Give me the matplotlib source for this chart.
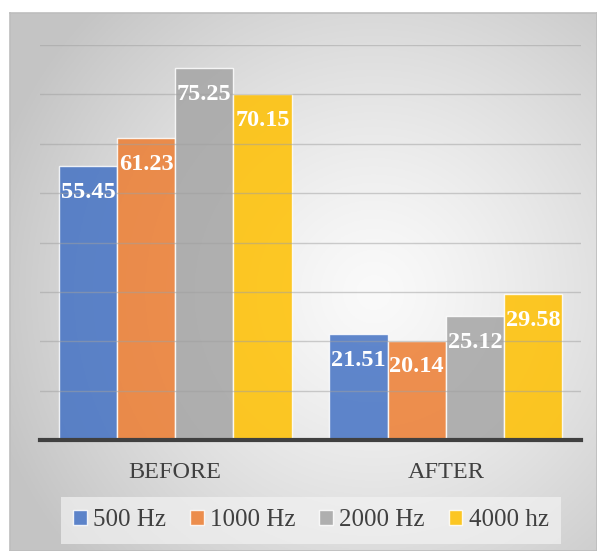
import numpy as np
import matplotlib.pyplot as plt
from matplotlib.patches import Rectangle

categories = ["BEFORE", "AFTER"]
series_names = ["500 Hz", "1000 Hz", "2000 Hz", "4000 hz"]
values_500 = [55.45, 21.51]
values_1000 = [61.23, 20.14]
values_2000 = [75.25, 25.12]
values_4000 = [70.15, 29.58]
all_values = [values_500, values_1000, values_2000, values_4000]
colors = ["#4472C4", "#ED7D31", "#A5A5A5", "#FFC000"]

plt.rcParams['font.family'] = ['Liberation Serif', 'DejaVu Serif']

W, H = 597, 551
fig = plt.figure(figsize=(W / 100, H / 100), dpi=100)
fig.patch.set_facecolor('white')

# background chart area with radial gradient
bx0, by0 = 10 / W, 0
bw, bh = 1 - bx0, (H - 13) / H
bg = fig.add_axes([bx0, by0, bw, bh], zorder=0)
ny, nx = 300, 330
yy, xx = np.mgrid[0:1:ny * 1j, 0:1:nx * 1j]
cx, cy = 0.62, 0.52
r = np.sqrt(((xx - cx) * 1.1) ** 2 + ((yy - cy) * 1.0) ** 2)
r = np.clip(r / 0.75, 0, 1)
lo, hi = 0.98, 0.77
img = hi + (lo - hi) * (1 - r ** 1.3)
bg.imshow(np.dstack([img, img, img]), extent=[0, 1, 0, 1], aspect='auto', origin='upper')
bg.set_xlim(0, 1)
bg.set_ylim(0, 1)
bg.set_xticks([])
bg.set_yticks([])
for s in bg.spines.values():
    s.set_color('#bdbdbd')
    s.set_linewidth(1.2)

ax = fig.add_axes([40 / W, 1 - 440 / H, (581 - 40) / W, (440 - 45) / H], zorder=1)
ax.patch.set_alpha(0)
x = np.arange(len(categories))
bw_ = 0.215
offsets = (np.arange(4) - 1.5) * bw_
bars_list = []
for i, (vals, c, name) in enumerate(zip(all_values, colors, series_names)):
    bars = ax.bar(x + offsets[i], vals, width=bw_, color=c, alpha=0.85,
                  edgecolor='white', linewidth=1.0, label=name, zorder=2)
    bars_list.append(bars)
    for b, v in zip(bars, vals):
        ax.annotate(f"{v:.2f}", (b.get_x() + b.get_width() / 2, v),
                    xytext=(0, -19), textcoords='offset points',
                    ha='center', va='center', color='white',
                    fontsize=17.5, fontweight='bold', zorder=3)

ax.set_xlim(-0.5, 1.5)
ax.set_ylim(0, 80)
ax.set_yticks(np.arange(0, 81, 10))
ax.yaxis.grid(True, color='#a0a0a0', linewidth=1.0, alpha=0.5, zorder=2.5)
ax.set_axisbelow(False)
ax.tick_params(axis='y', length=0, labelleft=False)
ax.tick_params(axis='x', length=0, pad=16, labelsize=17.5, labelcolor='#404040')
ax.set_xticks(x)
ax.set_xticklabels(categories)
for s in ['top', 'right', 'left']:
    ax.spines[s].set_visible(False)
ax.spines['bottom'].set_color('#404040')
ax.spines['bottom'].set_linewidth(3)
ax.spines['bottom'].set_zorder(4)

leg = fig.legend(handles=bars_list, labels=series_names, loc='center',
                 bbox_to_anchor=(311 / W, 1 - 520 / H), ncol=4,
                 fontsize=18, frameon=True, fancybox=False,
                 handlelength=0.55, handleheight=0.55, handletextpad=0.25,
                 columnspacing=0.95, borderpad=0.5, borderaxespad=0,
                 labelcolor='#404040')
leg.get_frame().set_facecolor('#f2f2f2')
leg.get_frame().set_alpha(0.7)
leg.get_frame().set_edgecolor('none')
leg.set_zorder(5)

fig.savefig('out.png', dpi=100)
